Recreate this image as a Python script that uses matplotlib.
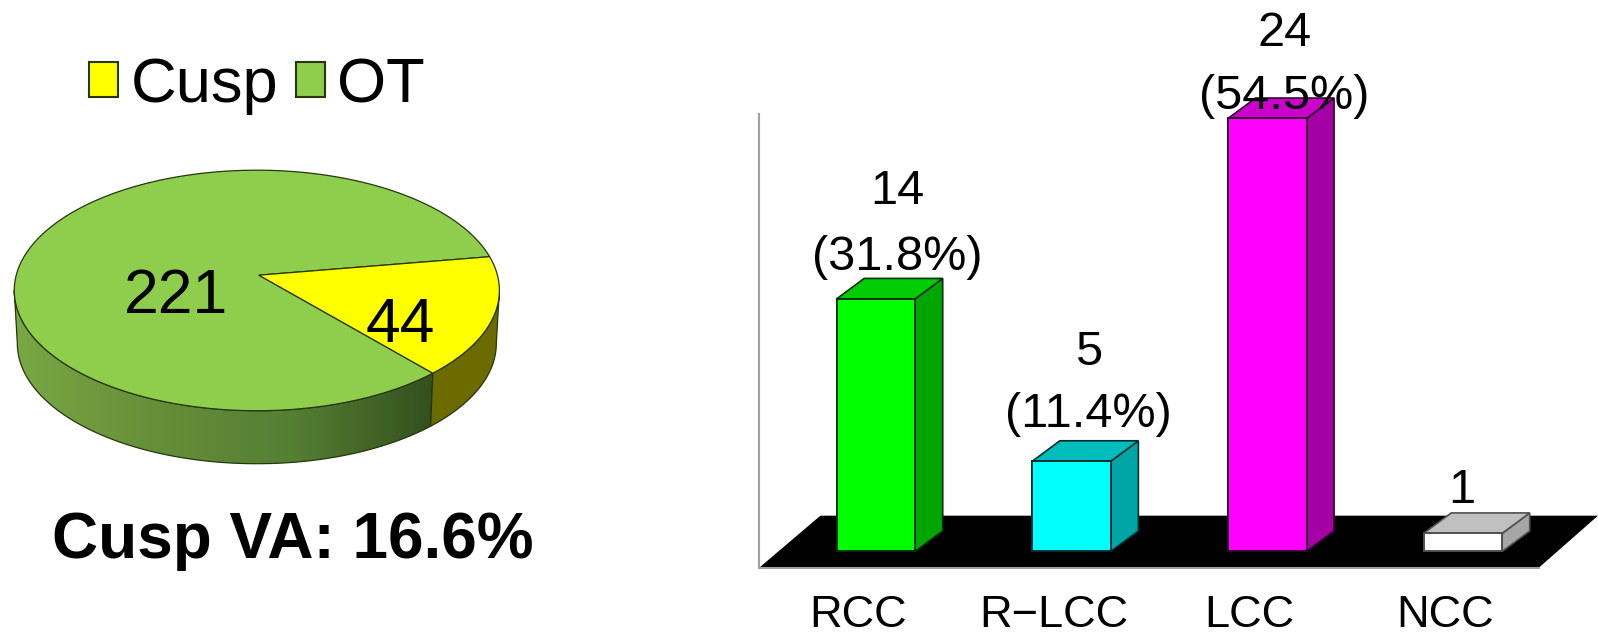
import numpy as np
import matplotlib
matplotlib.use('Agg')
from matplotlib import pyplot as plt
from matplotlib.colors import LinearSegmentedColormap
from matplotlib.patches import Patch, Polygon

plt.rcParams['font.family'] = ['Liberation Sans', 'DejaVu Sans']

# pie data
pie_names = ['Cusp', 'OT']
pie_values = [44, 221]
pie_colors = ['#ffff00', '#8fce4c']

# bar data
bar_names = ['RCC', 'R\u2212LCC', 'LCC', 'NCC']
bar_values = [14, 5, 24, 1]
bar_percent = ['(31.8%)', '(11.4%)', '(54.5%)', '']
front_colors = ['#00ff00', '#00ffff', '#ff00ff', '#ffffff']
side_colors = ['#00a600', '#00a5a5', '#a500a5', '#a6a6a6']
top_colors = ['#00cc00', '#00bcbc', '#cc00cc', '#c0c0c0']
edge_colors = ['#003000', '#003030', '#300030', '#505050']

W, H = 1568.0, 627.0
fig = plt.figure(figsize=(15.98, 6.39), dpi=100)

# ---- left side, canvas axes in picture pixels
ax = fig.add_axes([0, 0, 1, 1])
ax.set_xlim(0, W)
ax.set_ylim(H, 0)
ax.axis('off')

cx, cy, a, b = 252, 285, 238, 118
apex = (254, 270)
depth = 52


def rim(t, dy=0, shrink=0):
    t = np.radians(t)
    return np.column_stack([cx + (a - shrink) * np.cos(t), cy + dy - b * np.sin(t)])


def wall(t1, t2):
    t = np.linspace(t1, t2, 120)
    return np.vstack([rim(t), rim(t[::-1], depth, 3)])


# Cusp wedge runs clockwise from this angle, its size comes from the values
start = 16.3
sweep = 360 * pie_values[0] / sum(pie_values)
end = start - sweep

green_wall = LinearSegmentedColormap.from_list('wall', ['#7aa844', '#658f39', '#557f33', '#33501e'])
img = ax.imshow(np.linspace(0, 1, 256).reshape(1, -1), cmap=green_wall, aspect='auto',
                extent=[14, rim(end)[0, 0], 460, 280], zorder=1)
clip = Polygon(wall(end, -180), transform=ax.transData, fc='none', ec='none')
ax.add_patch(clip)
img.set_clip_path(clip)
ax.set_xlim(0, W)
ax.set_ylim(H, 0)
ax.add_patch(Polygon(wall(end, -180), fc='none', ec='#26360f', lw=0.9, zorder=2))
ax.add_patch(Polygon(wall(0, end), fc='#6b6b00', ec='#26360f', lw=0.9, zorder=2))

t_cusp = np.linspace(start, end, 80)
t_ot = np.linspace(end, end - (360 - sweep), 300)
ax.add_patch(Polygon(np.vstack([apex, rim(t_ot)]), fc=pie_colors[1], ec='#26360f', lw=0.9, zorder=3))
ax.add_patch(Polygon(np.vstack([apex, rim(t_cusp)]), fc=pie_colors[0], ec='#26360f', lw=0.9, zorder=3))

ax.text(173, 291, str(pie_values[1]), fontsize=45, ha='center', va='center', zorder=4)
ax.text(393, 319, str(pie_values[0]), fontsize=45, ha='center', va='center', zorder=4)
ax.text(287, 531, 'Cusp VA: 16.6%', fontsize=46, fontweight='bold', ha='center', va='center')

handles = [Patch(fc=c, ec='#26360f', lw=1.5) for c in pie_colors]
ax.legend(handles, pie_names, loc='center', bbox_to_anchor=(252 / W, 1 - 84 / H), ncol=2,
          frameon=False, fontsize=45.5, handlelength=0.46, handleheight=0.46,
          handletextpad=0.2, columnspacing=0.28, borderpad=0, labelspacing=0)

# ---- right side, axes in category index and count
unit_x = 192.0
unit_y = 17.7
left, right, top, bottom = 745, 1568, 112, 557
x0, base = 859.5, 541
ax2 = fig.add_axes([left / W, 1 - bottom / H, (right - left) / W, (bottom - top) / H])
ax2.set_xlim((left - x0) / unit_x, (right - x0) / unit_x)
ax2.set_ylim((base - bottom) / unit_y, (base - top) / unit_y)
ax2.patch.set_visible(False)

bar_w = 77 / unit_x
dx = 27 / unit_x
dy = 20 / unit_y

xl, xr = ax2.get_xlim()
yb = ax2.get_ylim()[0]
floor_top = (base - 506) / unit_y
floor = [(xl, yb), ((1510 - x0) / unit_x, yb), (xr, floor_top), ((805 - x0) / unit_x, floor_top)]
ax2.add_patch(Polygon(floor, fc='black', ec='none', zorder=1, clip_on=False))

xs = np.arange(len(bar_values))
ax2.bar(xs, bar_values, width=bar_w, color=front_colors, edgecolor=edge_colors, linewidth=1.4, zorder=3, clip_on=False)
for i, v in enumerate(bar_values):
    l, r = i - bar_w / 2, i + bar_w / 2
    ax2.add_patch(Polygon([(r, 0), (r + dx, dy), (r + dx, v + dy), (r, v)], fc=side_colors[i],
                          ec=edge_colors[i], lw=1.2, zorder=2, clip_on=False))
    ax2.add_patch(Polygon([(l, v), (r, v), (r + dx, v + dy), (l + dx, v + dy)], fc=top_colors[i],
                          ec=edge_colors[i], lw=1.2, zorder=2, clip_on=False))

# label centres relative to the bar, in pixels (the LCC one is squeezed by the page edge)
pct_gap = [41, 46, 22, 0]
num_gap = [105, 107, 83, 42]
label_dx = [20.5, 16.5, 16.5, -1.5]
for i, v in enumerate(bar_values):
    lx = i + label_dx[i] / unit_x
    ax2.text(lx, v + num_gap[i] / unit_y, str(v), fontsize=35, ha='center', va='center', zorder=5)
    if bar_percent[i]:
        ax2.text(lx, v + pct_gap[i] / unit_y, bar_percent[i], fontsize=35, ha='center', va='center', zorder=5)

ax2.set_xticks(xs - 17.5 / unit_x)
ax2.set_xticklabels(bar_names, fontsize=32.5)
ax2.set_yticks([])
ax2.tick_params(axis='x', length=0, pad=20)
for s in ['top', 'right']:
    ax2.spines[s].set_visible(False)
for s in ['left', 'bottom']:
    ax2.spines[s].set_color('#a0a0a0')
    ax2.spines[s].set_linewidth(1.5)
ax2.spines['bottom'].set_bounds(xl, (1510 - x0) / unit_x)

fig.savefig('out.png', dpi=100)
